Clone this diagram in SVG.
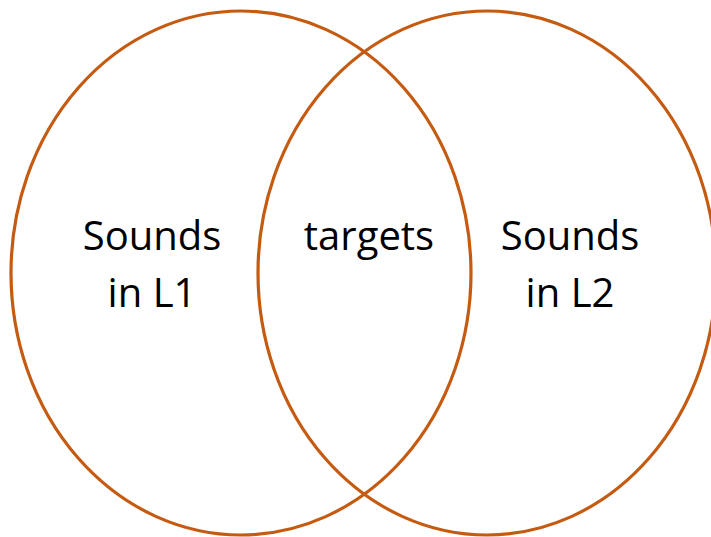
<svg xmlns="http://www.w3.org/2000/svg" width="711" height="537" viewBox="0 0 711 537">
<style>
.c{fill:none;stroke:#C55A11;stroke-width:3.2}
.t{font-family:"Open Sans","Liberation Sans",sans-serif;font-size:40px;fill:#000;text-anchor:middle}
</style>
<rect width="711" height="537" fill="#fff"/>
<g id="setL1"><ellipse class="c" cx="241" cy="273" rx="230" ry="262"/></g>
<g id="setL2"><ellipse class="c" cx="487" cy="273" rx="229" ry="262"/></g>
<g id="labels">
<text class="t" x="152" y="250">Sounds</text>
<text class="t" x="152" y="307">in L1</text>
<text class="t" x="369" y="250">targets</text>
<text class="t" x="570" y="250">Sounds</text>
<text class="t" x="570" y="307">in L2</text>
</g>
</svg>
